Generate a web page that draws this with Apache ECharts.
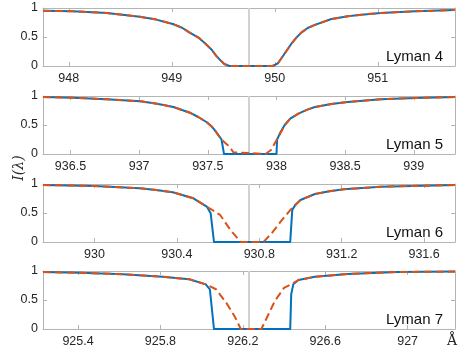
<!DOCTYPE html>
<html>
<head>
<meta charset="utf-8">
<script src="https://cdn.jsdelivr.net/npm/echarts@6/dist/echarts.min.js"></script>
<style>
  html, body { margin: 0; padding: 0; background: #fff; }
  #chart { width: 464px; height: 351px; }
</style>
</head>
<body>
<div id="chart"></div>
<script>
// panel names and line centres (Angstrom)
const lineNames = ['Lyman 4', 'Lyman 5', 'Lyman 6', 'Lyman 7'];
const lineCentres = [949.75, 937.80, 930.75, 926.23];
const xMins = [947.75, 936.3, 929.75, 925.23];
const xMaxs = [951.75, 939.3, 931.75, 927.23];

// tick labels
const xTicks4 = [948, 949, 950, 951];
const xTicks5 = [936.5, 937, 937.5, 938, 938.5, 939];
const xTicks6 = [930, 930.4, 930.8, 931.2, 931.6];
const xTicks7 = [925.4, 925.8, 926.2, 926.6, 927];
const yTicks = [0, 0.5, 1];

// Lyman 4 (both profiles overlap)
const lam4 = [947.75, 948.04, 948.37, 948.69, 948.85, 949.01, 949.1, 949.17, 949.26, 949.33, 949.39, 949.43,
  949.48, 949.51, 949.56, 949.98, 950.03, 950.06, 950.11, 950.16, 950.21, 950.26, 950.32, 950.39, 950.55,
  950.71, 950.87, 951.03, 951.36, 951.75];
const blue4 = [0.953, 0.943, 0.914, 0.85, 0.8, 0.724, 0.66, 0.58, 0.49, 0.38, 0.276, 0.18,
  0.085, 0.035, 0, 0, 0.046, 0.12, 0.25, 0.38, 0.49, 0.58, 0.655, 0.71, 0.81,
  0.857, 0.89, 0.914, 0.943, 0.966];
const orange4 = [0.953, 0.943, 0.914, 0.85, 0.8, 0.724, 0.66, 0.58, 0.49, 0.38, 0.276, 0.18,
  0.085, 0.035, 0, 0, 0.046, 0.12, 0.25, 0.38, 0.49, 0.58, 0.655, 0.71, 0.81,
  0.857, 0.89, 0.914, 0.943, 0.966];

// Lyman 5
const lam5Blue = [936.3, 936.52, 936.76, 937.01, 937.13, 937.25, 937.37, 937.43, 937.49, 937.53, 937.56, 937.6, 937.618,
  938.0, 938.005, 938.03, 938.06, 938.1, 938.16, 938.22, 938.28, 938.4, 938.52, 938.76, 939.01, 939.3];
const blue5 = [0.983, 0.971, 0.943, 0.908, 0.867, 0.81, 0.712, 0.638, 0.552, 0.47, 0.38, 0.25, 0,
  0, 0.25, 0.38, 0.5, 0.61, 0.695, 0.76, 0.81, 0.862, 0.897, 0.943, 0.966, 0.983];
const lam5Orange = [936.3, 936.52, 936.76, 937.01, 937.13, 937.25, 937.37, 937.43, 937.49, 937.53, 937.56, 937.6,
  937.66, 937.686, 937.7, 937.92, 937.96, 938.02, 938.06, 938.1, 938.16, 938.22, 938.28, 938.4, 938.52, 938.76,
  939.01, 939.3];
const orange5 = [0.983, 0.971, 0.943, 0.908, 0.867, 0.81, 0.712, 0.638, 0.552, 0.47, 0.38, 0.25,
  0.12, 0.03, 0, 0, 0.07, 0.32, 0.495, 0.61, 0.695, 0.76, 0.81, 0.862, 0.897, 0.943,
  0.966, 0.983];

// Lyman 6
const lam6Blue = [929.75, 930.0, 930.22, 930.3, 930.38, 930.48, 930.545, 930.564, 930.58,
  930.95, 930.96, 930.975, 931.0, 931.07, 931.14, 931.21, 931.39, 931.75];
const blue6 = [0.983, 0.966, 0.925, 0.895, 0.857, 0.753, 0.61, 0.494, 0,
  0, 0.55, 0.64, 0.724, 0.828, 0.875, 0.908, 0.954, 0.983];
const lam6Orange = [929.75, 930.0, 930.22, 930.3, 930.38, 930.48, 930.545, 930.61, 930.66, 930.71,
  930.82, 930.86, 930.91, 930.95, 931.0, 931.07, 931.14, 931.21, 931.39, 931.75];
const orange6 = [0.983, 0.966, 0.925, 0.895, 0.857, 0.753, 0.61, 0.466, 0.207, 0,
  0, 0.15, 0.38, 0.55, 0.724, 0.828, 0.875, 0.908, 0.954, 0.983];

// Lyman 7
const lam7Blue = [925.23, 925.41, 925.62, 925.81, 925.94, 926.02, 926.04, 926.06,
  926.43, 926.435, 926.445, 926.47, 926.55, 926.71, 926.95, 927.23];
const blue7 = [0.983, 0.97, 0.943, 0.9, 0.857, 0.77, 0.685, 0,
  0, 0.6, 0.77, 0.845, 0.9, 0.95, 0.983, 0.99];
const lam7Orange = [925.23, 925.41, 925.62, 925.81, 925.94, 926.02, 926.07, 926.12, 926.16, 926.19,
  926.29, 926.32, 926.355, 926.4, 926.445, 926.47, 926.55, 926.71, 926.95, 927.23];
const orange7 = [0.983, 0.97, 0.943, 0.9, 0.857, 0.77, 0.685, 0.45, 0.22, 0,
  0, 0.22, 0.48, 0.71, 0.79, 0.845, 0.9, 0.95, 0.983, 0.99];

const xTicks = [xTicks4, xTicks5, xTicks6, xTicks7];
const blueSets = [[lam4, blue4], [lam5Blue, blue5], [lam6Blue, blue6], [lam7Blue, blue7]];
const orangeSets = [[lam4, orange4], [lam5Orange, orange5], [lam6Orange, orange6], [lam7Orange, orange7]];

const pair = (xs, ys) => xs.map((x, i) => [x, ys[i]]);

const boxColor = '#b4b4b4';
const textColor = '#262626';
const fontFamily = 'Liberation Sans, Arial, sans-serif';

const gridTops = [8, 96, 184, 271];
const grid = [];
const xAxis = [];
const yAxis = [];
const series = [];
const title = [];

gridTops.forEach((top, i) => {
  grid.push({ left: 43, right: 9, top: top, height: 58 });

  const tickBase = {
    show: true,
    inside: true,
    length: 4,
    lineStyle: { color: boxColor }
  };
  // bottom axis with labels
  xAxis.push({
    type: 'value',
    gridIndex: i,
    min: xMins[i],
    max: xMaxs[i],
    axisLine: { show: true, onZero: false, lineStyle: { color: boxColor, width: 1 } },
    axisTick: { ...tickBase, customValues: xTicks[i] },
    axisLabel: {
      customValues: xTicks[i],
      color: textColor,
      fontFamily: fontFamily,
      fontSize: 12.5,
      margin: 6
    },
    splitLine: { show: false }
  });
  // top mirror
  xAxis.push({
    type: 'value',
    gridIndex: i,
    position: 'top',
    min: xMins[i],
    max: xMaxs[i],
    axisLine: { show: true, onZero: false, lineStyle: { color: boxColor, width: 1 } },
    axisTick: { ...tickBase, customValues: xTicks[i] },
    axisLabel: { show: false },
    splitLine: { show: false }
  });
  yAxis.push({
    type: 'value',
    gridIndex: i,
    min: 0,
    max: 1,
    interval: 0.5,
    axisLine: { show: true, onZero: false, lineStyle: { color: boxColor, width: 1 } },
    axisTick: tickBase,
    axisLabel: {
      color: textColor,
      fontFamily: fontFamily,
      fontSize: 12.5,
      margin: 5
    },
    splitLine: { show: false }
  });
  yAxis.push({
    type: 'value',
    gridIndex: i,
    position: 'right',
    min: 0,
    max: 1,
    interval: 0.5,
    axisLine: { show: true, onZero: false, lineStyle: { color: boxColor, width: 1 } },
    axisTick: tickBase,
    axisLabel: { show: false },
    splitLine: { show: false }
  });

  // grey line centre
  series.push({
    type: 'line',
    xAxisIndex: i * 2,
    yAxisIndex: i * 2,
    data: [[lineCentres[i], 0], [lineCentres[i], 1]],
    showSymbol: false,
    silent: true,
    lineStyle: { color: '#d2d2d2', width: 2 },
    z: 1
  });
  series.push({
    name: 'blue',
    type: 'line',
    xAxisIndex: i * 2,
    yAxisIndex: i * 2,
    data: pair(blueSets[i][0], blueSets[i][1]),
    showSymbol: false,
    lineStyle: { color: '#0072BD', width: 2, join: 'round' },
    z: 2
  });
  series.push({
    name: 'orange',
    type: 'line',
    xAxisIndex: i * 2,
    yAxisIndex: i * 2,
    data: pair(orangeSets[i][0], orangeSets[i][1]),
    showSymbol: false,
    lineStyle: { color: '#D95319', width: 2, type: [8, 4], join: 'round' },
    z: 3
  });

  title.push({
    text: lineNames[i],
    right: 21,
    top: top + 41,
    padding: 0,
    textStyle: {
      color: '#111',
      fontFamily: fontFamily,
      fontSize: 15,
      fontWeight: 'normal'
    }
  });
});

const chart = echarts.init(document.getElementById('chart'), null, { renderer: 'canvas' });
chart.setOption({
  animation: false,
  title: title,
  grid: grid,
  xAxis: xAxis,
  yAxis: yAxis,
  series: series,
  graphic: [
    {
      type: 'text',
      x: 19,
      y: 168,
      rotation: Math.PI / 2,
      style: {
        text: 'I(λ)',
        font: 'italic 14px "DejaVu Serif", serif',
        fill: textColor,
        align: 'center',
        verticalAlign: 'middle'
      }
    },
    {
      type: 'text',
      x: 452,
      y: 341,
      style: {
        text: 'Å',
        font: '14px "DejaVu Serif", serif',
        fill: textColor,
        align: 'center',
        verticalAlign: 'middle'
      }
    }
  ]
});
</script>
</body>
</html>
